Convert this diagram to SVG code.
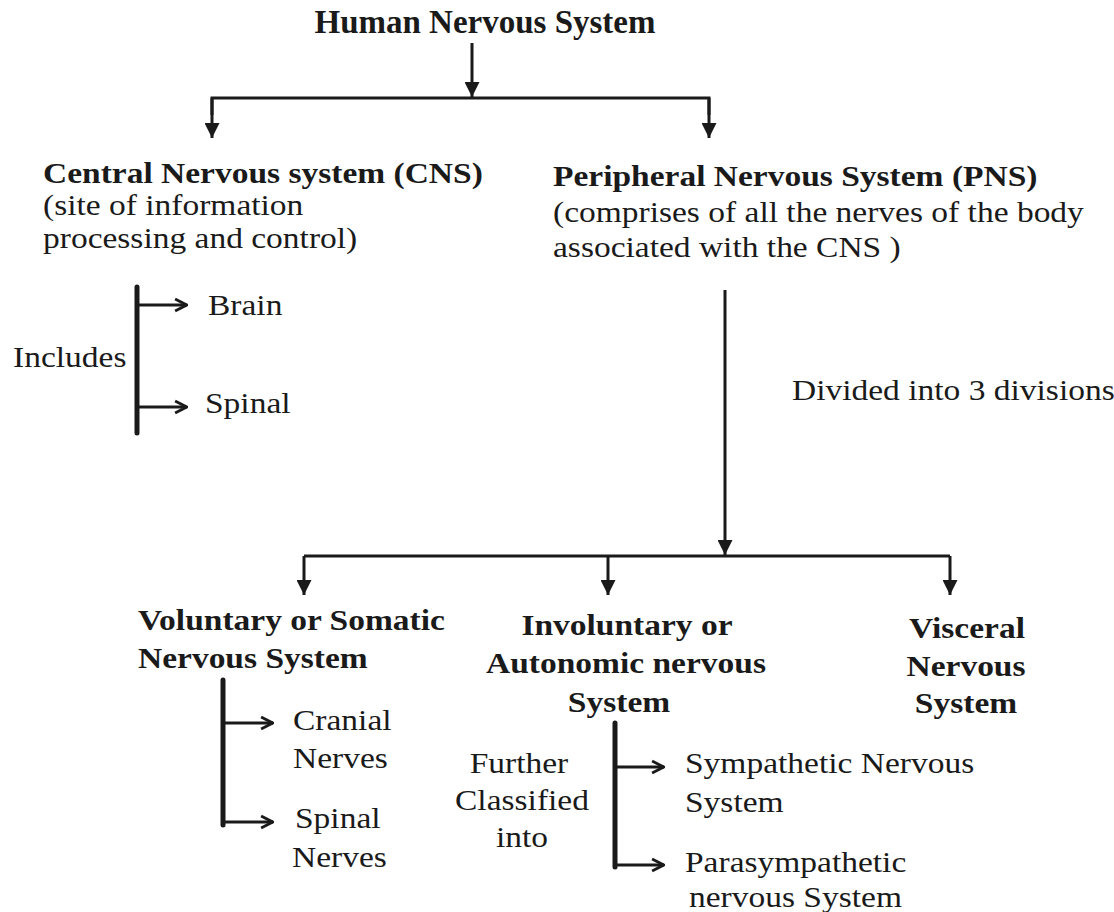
<svg xmlns="http://www.w3.org/2000/svg" width="1114" height="912" viewBox="0 0 1114 912">
<defs>
<style>
text{font-family:"Liberation Serif","Times New Roman",serif;fill:#1a1a1a;font-size:29px}
.b{font-weight:bold}
.c{text-anchor:middle}
.t{font-weight:bold;font-size:33px;text-anchor:middle}
.ln{stroke:#1a1a1a;stroke-width:3;fill:none}
.br{stroke:#1a1a1a;stroke-width:5;fill:none;stroke-linecap:round}
.ar{stroke:#1a1a1a;stroke-width:3;fill:none;marker-end:url(#tri)}
.ch{stroke:#1a1a1a;stroke-width:3;fill:none;marker-end:url(#chev)}
</style>
<marker id="tri" viewBox="0 0 10 10" refX="10" refY="5" markerWidth="17" markerHeight="15" markerUnits="userSpaceOnUse" orient="auto"><path d="M0,0 L10,5 L0,10 z" fill="#1a1a1a"/></marker>
<marker id="chev" viewBox="0 0 10 10" refX="9.5" refY="5" markerWidth="14" markerHeight="16" markerUnits="userSpaceOnUse" orient="auto"><path d="M1,0.8 L9.3,5 L1,9.2" fill="none" stroke="#1a1a1a" stroke-width="2"/></marker>
</defs>
<rect width="1114" height="912" fill="#ffffff"/>
<g id="connectors">
<line class="ar" x1="472" y1="43" x2="472" y2="97"/>
<polyline class="ln" points="212,115 212,98 709,98 709,115"/>
<line class="ar" x1="212" y1="98" x2="212" y2="138"/>
<line class="ar" x1="709" y1="98" x2="709" y2="138"/>
<line class="br" x1="137" y1="287" x2="137" y2="433"/>
<line class="ch" x1="137" y1="305" x2="187" y2="305"/>
<line class="ch" x1="137" y1="407" x2="187" y2="407"/>
<line class="ar" x1="725" y1="290" x2="725" y2="555"/>
<line class="ln" x1="304" y1="556" x2="950" y2="556"/>
<line class="ar" x1="304" y1="556" x2="304" y2="595"/>
<line class="ar" x1="608" y1="556" x2="608" y2="595"/>
<line class="ar" x1="950" y1="556" x2="950" y2="595"/>
<line class="br" x1="223" y1="680" x2="223" y2="825"/>
<line class="ch" x1="223" y1="723" x2="273" y2="723"/>
<line class="ch" x1="223" y1="822" x2="273" y2="822"/>
<line class="br" x1="615" y1="723" x2="615" y2="867"/>
<line class="ch" x1="615" y1="767" x2="664" y2="767"/>
<line class="ch" x1="615" y1="865" x2="664" y2="865"/>
</g>
<g id="title"><text class="t" x="485" y="33">Human Nervous System</text></g>
<g id="cns">
<text class="b" transform="translate(43,183) scale(1.155,1)">Central Nervous system (CNS)</text>
<text transform="translate(43,215) scale(1.155,1)">(site of information</text>
<text transform="translate(43,248) scale(1.155,1)">processing and control)</text>
</g>
<g id="includes"><text transform="translate(13,367) scale(1.155,1)">Includes</text></g>
<g id="brain"><text transform="translate(208,315) scale(1.155,1)">Brain</text></g>
<g id="spinal"><text transform="translate(205,413) scale(1.155,1)">Spinal</text></g>
<g id="pns">
<text class="b" transform="translate(553,186) scale(1.155,1)">Peripheral Nervous System (PNS)</text>
<text transform="translate(553,222) scale(1.155,1)">(comprises of all the nerves of the body</text>
<text transform="translate(553,257) scale(1.155,1)">associated with the CNS )</text>
</g>
<g id="divided"><text transform="translate(792,400) scale(1.155,1)">Divided into 3 divisions</text></g>
<g id="somatic">
<text class="b" transform="translate(138,630) scale(1.155,1)">Voluntary or Somatic</text>
<text class="b" transform="translate(138,668) scale(1.155,1)">Nervous System</text>
</g>
<g id="autonomic">
<text class="b c" transform="translate(627,635) scale(1.155,1)">Involuntary or</text>
<text class="b c" transform="translate(626,673) scale(1.155,1)">Autonomic nervous</text>
<text class="b c" transform="translate(619,712) scale(1.155,1)">System</text>
</g>
<g id="visceral">
<text class="b c" transform="translate(967,638) scale(1.155,1)">Visceral</text>
<text class="b c" transform="translate(966,676) scale(1.155,1)">Nervous</text>
<text class="b c" transform="translate(966,713) scale(1.155,1)">System</text>
</g>
<g id="cranial">
<text transform="translate(293,730) scale(1.155,1)">Cranial</text>
<text transform="translate(293,768) scale(1.155,1)">Nerves</text>
</g>
<g id="spinal-nerves">
<text transform="translate(295,828) scale(1.155,1)">Spinal</text>
<text transform="translate(292,867) scale(1.155,1)">Nerves</text>
</g>
<g id="further">
<text class="c" transform="translate(519,773) scale(1.155,1)">Further</text>
<text class="c" transform="translate(522,810) scale(1.155,1)">Classified</text>
<text class="c" transform="translate(522,847) scale(1.155,1)">into</text>
</g>
<g id="sympathetic">
<text transform="translate(685,773) scale(1.155,1)">Sympathetic Nervous</text>
<text transform="translate(685,812) scale(1.155,1)">System</text>
</g>
<g id="parasympathetic">
<text transform="translate(685,872) scale(1.155,1)">Parasympathetic</text>
<text transform="translate(689,907) scale(1.155,1)">nervous System</text>
</g>
</svg>
